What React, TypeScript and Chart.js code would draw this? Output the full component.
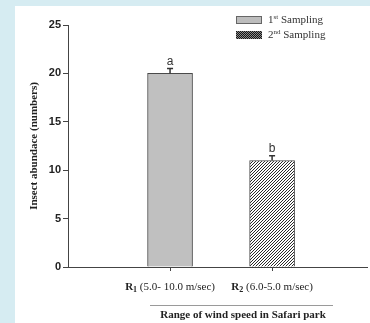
import { useEffect, useRef } from 'react';
import { Chart, registerables } from 'chart.js';

Chart.register(...registerables);

const categoryMain = ['R', 'R'];
const categorySub = ['1', '2'];
const categoryRest = [' (5.0- 10.0 m/sec)', ' (6.0-5.0 m/sec)'];
const seriesNames = ['1st Sampling', '2nd Sampling'];
const seriesNum = ['1', '2'];
const seriesSup = ['st', 'nd'];
const seriesRest = [' Sampling', ' Sampling'];
const values = [20, 11];
const errors = [0.5, 0.5];
const letters = ['a', 'b'];
const yTitle = 'Insect abundace (numbers)';
const xTitle = 'Range of wind speed in Safari park';

const SERIF = '"Liberation Serif", "Times New Roman", serif';
const SANS = '"Liberation Sans", Arial, sans-serif';

function makeHatch(): CanvasPattern | string {
  const c = document.createElement('canvas');
  c.width = 3;
  c.height = 3;
  const g = c.getContext('2d');
  if (!g) return '#666';
  g.fillStyle = '#ffffff';
  g.fillRect(0, 0, 3, 3);
  g.strokeStyle = '#2a2a2a';
  g.lineWidth = 1;
  g.beginPath();
  g.moveTo(-1, 4);
  g.lineTo(4, -1);
  g.moveTo(-1, 1);
  g.lineTo(1, -1);
  g.moveTo(2, 4);
  g.lineTo(4, 2);
  g.stroke();
  return g.createPattern(c, 'repeat') || '#666';
}

function makeDots(): CanvasPattern | string {
  const c = document.createElement('canvas');
  c.width = 2;
  c.height = 2;
  const g = c.getContext('2d');
  if (!g) return '#333';
  g.fillStyle = '#8a8a8a';
  g.fillRect(0, 0, 2, 2);
  g.fillStyle = '#151515';
  g.fillRect(0, 0, 1, 1);
  g.fillRect(1, 1, 1, 1);
  return g.createPattern(c, 'repeat') || '#333';
}

export default function App() {
  const ref = useRef<HTMLCanvasElement | null>(null);

  useEffect(() => {
    const canvas = ref.current;
    if (!canvas) return;
    const hatch = makeHatch();
    const dots = makeDots();
    const fills = ['#c0c0c0', hatch];
    const legendFills = ['#bdbdbd', dots];

    const extras = {
      id: 'extras',
      afterDraw(chart: any) {
        const ctx = chart.ctx as CanvasRenderingContext2D;
        const xs = chart.scales.x;
        const ys = chart.scales.y;
        ctx.save();
        // error bars and letters
        values.forEach((v, i) => {
          const px = xs.getPixelForValue(i + 1);
          const top = ys.getPixelForValue(v + errors[i]);
          const base = ys.getPixelForValue(v);
          ctx.strokeStyle = '#333';
          ctx.lineWidth = 1.5;
          ctx.beginPath();
          ctx.moveTo(px, base);
          ctx.lineTo(px, top);
          ctx.moveTo(px - 3, top);
          ctx.lineTo(px + 3, top);
          ctx.stroke();
          ctx.fillStyle = '#333';
          ctx.font = `12px ${SANS}`;
          ctx.textAlign = 'center';
          ctx.textBaseline = 'middle';
          ctx.fillText(letters[i], px, top - 7);
        });
        // x category labels
        ctx.textBaseline = 'middle';
        ctx.textAlign = 'left';
        const ly = 281;
        categoryMain.forEach((m, i) => {
          const px = xs.getPixelForValue(i + 1);
          ctx.font = `bold 11px ${SERIF}`;
          const w1 = ctx.measureText(m).width;
          ctx.font = `bold 8px ${SERIF}`;
          const w2 = ctx.measureText(categorySub[i]).width;
          ctx.font = `11px ${SERIF}`;
          const w3 = ctx.measureText(categoryRest[i]).width;
          let x = px - (w1 + w2 + w3) / 2;
          ctx.fillStyle = '#222';
          ctx.font = `bold 11px ${SERIF}`;
          ctx.fillText(m, x, ly);
          x += w1;
          ctx.font = `bold 8px ${SERIF}`;
          ctx.fillText(categorySub[i], x, ly + 3);
          x += w2;
          ctx.font = `11px ${SERIF}`;
          ctx.fillText(categoryRest[i], x, ly);
        });
        // separator line
        ctx.strokeStyle = '#9a9a9a';
        ctx.lineWidth = 1;
        ctx.beginPath();
        ctx.moveTo(135, 299.5);
        ctx.lineTo(318, 299.5);
        ctx.stroke();
        // x title
        ctx.fillStyle = '#222';
        ctx.font = `bold 11px ${SERIF}`;
        ctx.textAlign = 'center';
        ctx.fillText(xTitle, 228, 309);
        // legend
        const boxes = [{ y: 10 }, { y: 25 }];
        boxes.forEach((b, i) => {
          ctx.fillStyle = legendFills[i] as any;
          ctx.fillRect(221, b.y, 26, 8);
          if (i === 0) {
            ctx.strokeStyle = '#666';
            ctx.lineWidth = 1;
            ctx.strokeRect(221.5, b.y + 0.5, 25, 7);
          }
          const ty = b.y + 4.5;
          let x = 253;
          ctx.fillStyle = '#333';
          ctx.textAlign = 'left';
          ctx.font = `11px ${SERIF}`;
          ctx.fillText(seriesNum[i], x, ty);
          x += ctx.measureText(seriesNum[i]).width;
          ctx.font = `7px ${SERIF}`;
          ctx.fillText(seriesSup[i], x, ty - 3);
          x += ctx.measureText(seriesSup[i]).width;
          ctx.font = `11px ${SERIF}`;
          ctx.fillText(seriesRest[i], x, ty);
        });
        ctx.restore();
      },
    };

    const chart = new Chart(canvas, {
      type: 'bar',
      data: {
        datasets: seriesNames.map((name, i) => ({
          label: name,
          data: [{ x: i + 1, y: values[i] }],
          backgroundColor: fills[i] as any,
          borderColor: '#4a4a4a',
          borderWidth: 1,
          barThickness: 45,
          grouped: false,
        })),
      },
      options: {
        responsive: false,
        animation: false,
        layout: { padding: { top: 19, right: 0, left: 0, bottom: 0 } },
        plugins: {
          legend: { display: false },
          tooltip: { enabled: false },
        },
        scales: {
          x: {
            type: 'linear',
            min: 0,
            max: 2.93,
            offset: false,
            afterFit: (s: any) => {
              s.height = 56;
            },
            ticks: { stepSize: 1, callback: () => '', autoSkip: false },
            grid: {
              offset: false,
              drawOnChartArea: false,
              tickLength: 4,
              color: (c: any) =>
                c.tick && (c.tick.value === 1 || c.tick.value === 2) ? '#444' : 'rgba(0,0,0,0)',
            },
            border: { color: '#444', width: 1 },
          },
          y: {
            min: 0,
            max: 25,
            afterFit: (s: any) => {
              s.width = 53;
            },
            ticks: {
              stepSize: 5,
              color: '#222',
              padding: 2,
              font: { family: SANS, size: 11, weight: 'bold' },
            },
            grid: { drawOnChartArea: false, tickLength: 5, color: '#444' },
            border: { color: '#444', width: 1 },
            title: {
              display: true,
              text: yTitle,
              color: '#222',
              font: { family: SERIF, size: 11, weight: 'bold' },
              padding: { top: 13, bottom: 0 },
            },
          },
        },
      } as any,
      plugins: [extras],
    });
    return () => chart.destroy();
  }, []);

  return (
    <div
      style={{
        position: 'fixed',
        left: 0,
        top: 0,
        width: 370,
        height: 323,
        background: '#d6ecf2',
        overflow: 'hidden',
      }}
    >
      <canvas
        ref={ref}
        width={355}
        height={317}
        style={{ position: 'absolute', left: 15, top: 6, width: 355, height: 317, background: '#ffffff' }}
      />
    </div>
  );
}
